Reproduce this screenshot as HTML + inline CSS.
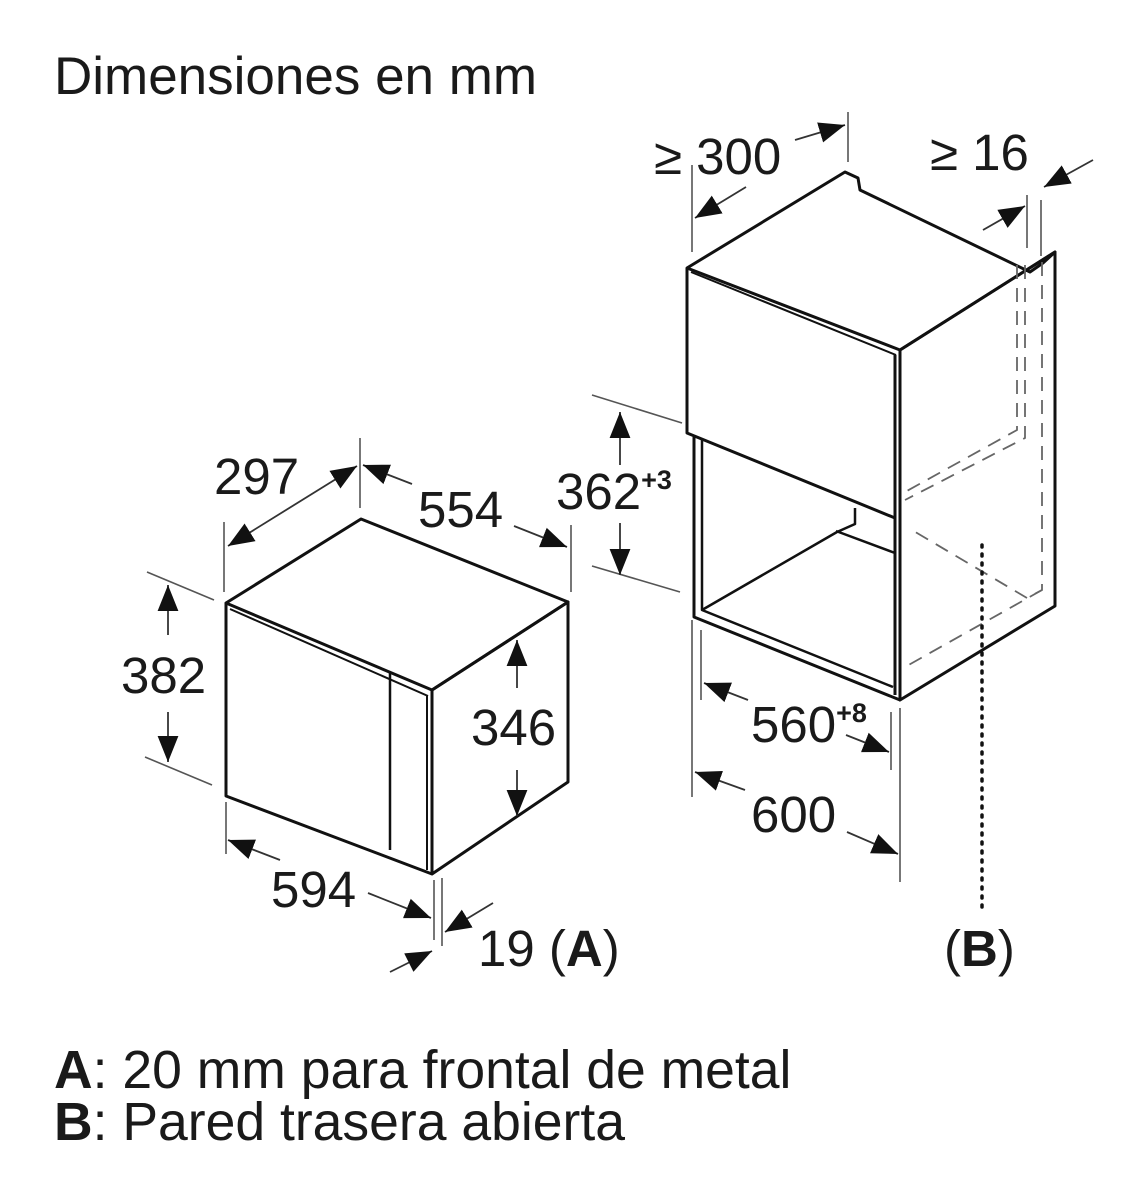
<!DOCTYPE html>
<html><head><meta charset="utf-8"><style>
html,body{margin:0;padding:0;background:#fff;}
svg{display:block;}
text{font-family:"Liberation Sans",sans-serif;fill:#1a1a1a;}
</style></head><body>
<svg width="1146" height="1200" viewBox="0 0 1146 1200" xmlns="http://www.w3.org/2000/svg">
<defs>
<marker id="ah" viewBox="0 0 10 10" refX="10" refY="5" markerWidth="26" markerHeight="26" markerUnits="userSpaceOnUse" orient="auto-start-reverse">
<path d="M0,1 L10,5 L0,9 z" fill="#111"/>
</marker>
</defs>
<text x="54" y="94" font-size="53">Dimensiones en mm</text>

<g fill="none" stroke="#111" stroke-width="3" stroke-linejoin="round">
<path d="M226,603 L361,519 L568,602 L432,690 Z" fill="#fff"/>
<path d="M226,603 L226,796 L432,874 L432,690"/>
<path d="M432,690 L568,602 L568,782 L432,874"/>
<path d="M230,609 L428,696" stroke-width="2"/>
<path d="M390,672 L390,850" stroke-width="2.5"/>
<path d="M427,695 L427,870" stroke-width="2"/>
</g>
<g stroke="#555" stroke-width="1.6" fill="none">
<line x1="224" y1="522" x2="224" y2="592"/>
<line x1="360" y1="438" x2="360" y2="508"/>
<line x1="571" y1="525" x2="571" y2="592"/>
<line x1="147" y1="572" x2="214" y2="600"/>
<line x1="145" y1="757" x2="212" y2="785"/>
<line x1="226" y1="802" x2="226" y2="854"/>
<line x1="434" y1="880" x2="434" y2="940"/>
<line x1="442" y1="878" x2="442" y2="946"/>
</g>
<g stroke="#333" stroke-width="1.8" fill="none">
<line x1="228" y1="546" x2="357" y2="466" marker-start="url(#ah)" marker-end="url(#ah)"/>
<line x1="412" y1="484" x2="363" y2="465" marker-end="url(#ah)"/>
<line x1="514" y1="526" x2="567" y2="547" marker-end="url(#ah)"/>
<line x1="168" y1="635" x2="168" y2="585" marker-end="url(#ah)"/>
<line x1="168" y1="712" x2="168" y2="762" marker-end="url(#ah)"/>
<line x1="517" y1="688" x2="517" y2="640" marker-end="url(#ah)"/>
<line x1="517" y1="770" x2="517" y2="816" marker-end="url(#ah)"/>
<line x1="280" y1="860" x2="228" y2="840" marker-end="url(#ah)"/>
<line x1="368" y1="893" x2="431" y2="918" marker-end="url(#ah)"/>
<line x1="390" y1="972" x2="432" y2="951" marker-end="url(#ah)"/>
<line x1="493" y1="903" x2="445" y2="932" marker-end="url(#ah)"/>
</g>
<text x="214" y="494" font-size="51">297</text>
<text x="418" y="527" font-size="51">554</text>
<text x="121" y="693" font-size="51">382</text>
<text x="471" y="745" font-size="51">346</text>
<text x="271" y="907" font-size="51">594</text>
<text x="478" y="966" font-size="51">19 (<tspan font-weight="bold">A</tspan>)</text>

<g fill="none" stroke="#111" stroke-width="3" stroke-linejoin="round">
<path d="M687,268 L845,172 L858,178 L860,190 L1030,272 L1043,263 L1055,252 L900,350 Z" fill="#fff"/>
<path d="M687,268 L687,433 L895,518"/>
<path d="M691,272 L896,355" stroke-width="2"/>
<path d="M900,350 L1055,252 L1055,606 L900,700 Z"/>
<path d="M895,355 L895,695"/>
<path d="M694,437 L694,617 L900,700"/>
<path d="M702,440 L702,610 L893,687" stroke-width="2.5"/>
<path d="M702,610 L837,532 L855,524 L855,508" stroke-width="2.5"/>
<path d="M836,531 L895,553" stroke-width="2.5"/>
</g>
<g fill="none" stroke="#666" stroke-width="1.8" stroke-dasharray="14,9">
<path d="M1017,265 L1017,430 L905,492"/>
<path d="M1025,265 L1025,438 L905,500"/>
<path d="M1042,262 L1042,590 L1027,598 L912,530"/>
<path d="M1042,590 L905,667"/>
</g>
<line x1="982" y1="545" x2="982" y2="910" stroke="#111" stroke-width="3.5" stroke-dasharray="2,7" stroke-linecap="round"/>
<g stroke="#555" stroke-width="1.6" fill="none">
<line x1="692" y1="165" x2="692" y2="252"/>
<line x1="848" y1="112" x2="848" y2="162"/>
<line x1="1027" y1="195" x2="1027" y2="248"/>
<line x1="1041" y1="200" x2="1041" y2="256"/>
<line x1="592" y1="395" x2="682" y2="423"/>
<line x1="592" y1="566" x2="680" y2="592"/>
<line x1="692" y1="620" x2="692" y2="797"/>
<line x1="701" y1="630" x2="701" y2="700"/>
<line x1="891" y1="712" x2="891" y2="770"/>
<line x1="900" y1="708" x2="900" y2="882"/>
</g>
<g stroke="#333" stroke-width="1.8" fill="none">
<line x1="746" y1="187" x2="695" y2="218" marker-end="url(#ah)"/>
<line x1="795" y1="140" x2="845" y2="125" marker-end="url(#ah)"/>
<line x1="983" y1="230" x2="1025" y2="206" marker-end="url(#ah)"/>
<line x1="1093" y1="160" x2="1044" y2="187" marker-end="url(#ah)"/>
<line x1="620" y1="465" x2="620" y2="412" marker-end="url(#ah)"/>
<line x1="620" y1="523" x2="620" y2="575" marker-end="url(#ah)"/>
<line x1="748" y1="700" x2="704" y2="683" marker-end="url(#ah)"/>
<line x1="846" y1="735" x2="889" y2="752" marker-end="url(#ah)"/>
<line x1="745" y1="790" x2="695" y2="772" marker-end="url(#ah)"/>
<line x1="847" y1="832" x2="898" y2="854" marker-end="url(#ah)"/>
</g>
<text x="654" y="174" font-size="51">≥ 300</text>
<text x="930" y="170" font-size="51">≥ 16</text>
<text x="556" y="509" font-size="51">362<tspan font-size="27" font-weight="bold" dy="-20">+3</tspan></text>
<text x="751" y="742" font-size="51">560<tspan font-size="27" font-weight="bold" dy="-20">+8</tspan></text>
<text x="751" y="832" font-size="51">600</text>
<text x="944" y="966" font-size="51">(<tspan font-weight="bold">B</tspan>)</text>

<text x="54" y="1088" font-size="53.5"><tspan font-weight="bold">A</tspan>: 20 mm para frontal de metal</text>
<text x="54" y="1140" font-size="53.5"><tspan font-weight="bold">B</tspan>: Pared trasera abierta</text>
</svg>
</body></html>
